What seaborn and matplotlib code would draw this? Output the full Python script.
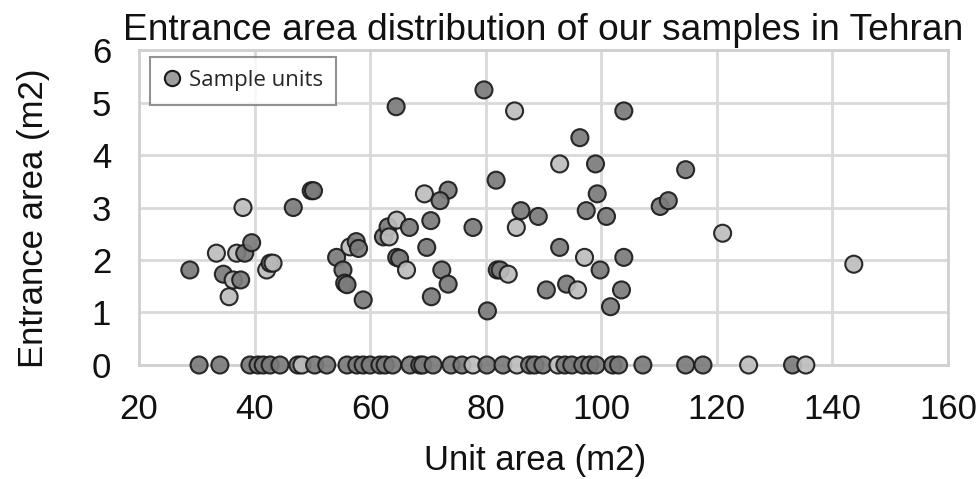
import matplotlib
matplotlib.use("Agg")
import matplotlib.pyplot as plt
import seaborn as sns
import pandas as pd
from matplotlib.lines import Line2D

# ---- data ----
unit_area = [
    28.8, 33.4, 34.6, 35.6, 36.3, 37.6, 36.9, 38.3, 39.5, 38.0,
    42.1, 42.7, 43.2, 46.7, 49.8, 50.2, 54.2, 55.3, 55.6, 56.0,
    58.8, 56.5, 57.6, 58.0, 62.3, 63.1, 64.6, 66.8, 63.3, 64.6,
    65.1, 66.3, 64.5, 69.4, 73.5, 72.1, 70.5, 77.8, 69.8, 72.4,
    73.5, 70.6, 79.7, 85.0, 103.9, 96.3, 92.8, 99.0, 114.6, 81.8,
    99.3, 97.4, 100.9, 110.2, 111.6, 86.1, 89.1, 85.3, 92.8, 97.1,
    103.9, 99.8, 82.0, 82.5, 83.9, 90.5, 94.0, 95.9, 103.5, 101.6,
    80.3, 121.0, 143.7,
]
entrance_area = [
    1.81, 2.13, 1.73, 1.30, 1.62, 1.62, 2.13, 2.13, 2.33, 3.00,
    1.81, 1.94, 1.94, 3.00, 3.32, 3.32, 2.05, 1.81, 1.56, 1.53,
    1.24, 2.25, 2.35, 2.22, 2.44, 2.63, 2.76, 2.62, 2.44, 2.05,
    2.03, 1.81, 4.92, 3.26, 3.33, 3.13, 2.75, 2.62, 2.24, 1.81,
    1.54, 1.30, 5.24, 4.84, 4.84, 4.33, 3.83, 3.83, 3.72, 3.52,
    3.26, 2.94, 2.83, 3.02, 3.13, 2.94, 2.83, 2.62, 2.24, 2.05,
    2.05, 1.81, 1.81, 1.81, 1.73, 1.43, 1.54, 1.43, 1.43, 1.11,
    1.03, 2.51, 1.92,
]
tone = [
    "d", "l", "d", "l", "l", "d", "l", "d", "d", "l",
    "l", "d", "l", "d", "d", "d", "d", "d", "d", "d",
    "d", "l", "d", "d", "d", "d", "l", "d", "l", "d",
    "d", "l", "d", "l", "d", "d", "d", "d", "d", "d",
    "d", "d", "d", "l", "d", "d", "l", "d", "d", "d",
    "d", "d", "d", "d", "d", "d", "d", "l", "d", "l",
    "d", "d", "d", "d", "l", "d", "d", "l", "d", "d",
    "d", "l", "l",
]
# units with no entrance area (entrance = 0)
zero_unit_area = [
    30.4, 34.0, 39.2, 40.6, 41.5, 42.7, 44.4, 47.5, 48.2, 50.4,
    52.5, 56.0, 57.7, 58.8, 60.0, 61.7, 62.6, 63.9, 66.9, 68.6,
    69.1, 70.9, 74.0, 75.9, 77.8, 80.2, 83.0, 85.4, 87.6, 88.5,
    89.9, 92.5, 93.7, 94.9, 96.8, 98.0, 99.1, 102.0, 103.0, 107.2,
    114.6, 117.6, 125.5, 133.1, 135.4,
]
zero_tone = [
    "d", "d", "d", "d", "d", "d", "d", "d", "l", "d",
    "d", "d", "d", "d", "d", "d", "d", "d", "d", "d",
    "d", "d", "d", "d", "l", "d", "d", "l", "d", "d",
    "d", "l", "d", "d", "d", "d", "d", "d", "d", "d",
    "d", "d", "l", "d", "l",
]
x_ticks = [20, 40, 60, 80, 100, 120, 140, 160]
y_ticks = [0, 1, 2, 3, 4, 5, 6]

df = pd.DataFrame({
    "unit": unit_area + zero_unit_area,
    "entrance": entrance_area + [0.0] * len(zero_unit_area),
    "tone": tone + zero_tone,
})

sns.set_theme(style="whitegrid")
plt.rcParams["font.family"] = ["Liberation Sans", "DejaVu Sans"]

fig = plt.figure(figsize=(9.76, 4.79), dpi=100)
ax = fig.add_axes([0.1424, 0.238, 0.9713 - 0.1424, 0.8956 - 0.238])

pal = {"d": "#7b7b7b", "l": "#bdbdbd"}
sns.scatterplot(data=df, x="unit", y="entrance", hue="tone", palette=pal,
                s=150, edgecolor="#1a1a1a", linewidth=1.5, alpha=0.92,
                legend=False, ax=ax, clip_on=False, zorder=3)

ax.set_xlim(x_ticks[0], x_ticks[-1])
ax.set_ylim(y_ticks[0], y_ticks[-1])
ax.set_xticks(x_ticks)
ax.set_yticks(y_ticks)
ax.grid(True, color="#d9d9d9", linewidth=2)
for sp in ax.spines.values():
    sp.set_color("#d0d0d0")
    sp.set_linewidth(2)
ax.tick_params(axis="both", labelsize=25, colors="#111111", length=0)
ax.tick_params(axis="x", pad=20)
ax.tick_params(axis="y", pad=20)
ax.set_xlabel("Unit area (m2)", fontsize=25, color="#111111")
ax.set_ylabel("Entrance area (m2)", fontsize=25, color="#111111")
ax.yaxis.set_label_coords(-0.11, 0.465)
ax.xaxis.set_label_coords(0.49, -0.25)
ax.set_title("Entrance area distribution of our samples in Tehran",
             fontsize=26.7, pad=7, color="#111111")

handle = Line2D([], [], marker="o", linestyle="none", markersize=11,
                markerfacecolor="#9e9e9e", markeredgecolor="#1a1a1a",
                markeredgewidth=1.5)
leg = ax.legend([handle], ["Sample units"], loc="upper left",
                bbox_to_anchor=(0.0136, 0.978), frameon=True, fancybox=False,
                prop={"family": "Open Sans", "size": 16},
                handletextpad=0.35, borderpad=0.6, handlelength=0.8,
                borderaxespad=0)
leg.get_frame().set_edgecolor("#777777")
leg.get_frame().set_linewidth(1.5)
leg.set_zorder(5)

fig.savefig("out.png", dpi=100)
